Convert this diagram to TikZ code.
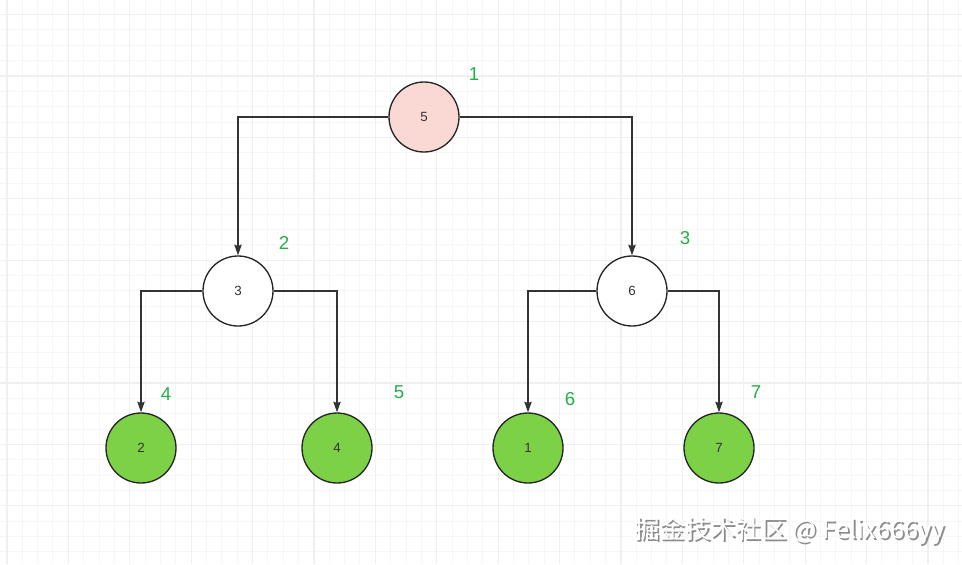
\documentclass[tikz,border=0pt]{standalone}
\usepackage{fontspec}
\setmainfont{Liberation Sans}
\newfontfamily\cjkfont{Noto Sans CJK SC}
\usetikzlibrary{arrows.meta}
\definecolor{rose}{HTML}{FAD9D5}
\definecolor{feuille}{HTML}{7CD147}
\definecolor{ordre}{HTML}{27AE4A}
\definecolor{trait}{HTML}{333333}
\tikzset{
	noeud/.style = {circle, draw=black!85, line width=1pt, inner sep=0pt,
		minimum size=52.5pt, text=trait, font=\fontsize{10}{12}\selectfont},
	noeud_r/.style = {noeud, fill=rose},% racine
	noeud_b/.style = {noeud, fill=white},% noeud interne
	noeud_v/.style = {noeud, fill=feuille},% feuille
	rang/.style = {text=ordre, font=\fontsize{14}{16}\selectfont},% ordre de visite
	lien/.style = {-{Stealth[length=8pt, width=5.5pt, inset=1pt]}, draw=trait,
		line width=1pt},
	grille/.style = {draw=black!3.5, line width=0.7pt},
	grille_f/.style = {draw=black!6, line width=0.9pt},
	filigrane/.style = {font=\cjkfont\fontsize{19}{22}\selectfont}
}

\begin{document}
\begin{tikzpicture}[x=0.75pt, y=-0.75pt]
	\useasboundingbox[fill=white] (0,0) rectangle (962,564);
	% quadrillage
	\foreach \i in {0,...,62} {\draw[grille] ({6.9+15.35*\i},0) -- ++(0,564);}
	\foreach \i in {0,...,36} {\draw[grille] (0,{-0.75+15.35*\i}) -- ++(962,0);}
	\foreach \i in {0,...,15} {\draw[grille_f] ({6.9+61.4*\i},0) -- ++(0,564);}
	\foreach \i in {0,...,8} {\draw[grille_f] (0,{14.6+61.4*\i}) -- ++(962,0);}
	% arbre
	\node[noeud_r] (n5) at (424,117) {5};
	\node[noeud_b] (n3) at (238,291) {3};
	\node[noeud_b] (n6) at (632,291) {6};
	\node[noeud_v] (n2) at (141,448) {2};
	\node[noeud_v] (n4) at (337,448) {4};
	\node[noeud_v] (n1) at (528,448) {1};
	\node[noeud_v] (n7) at (719,448) {7};
	\draw[lien] (n5.west) -| (n3);
	\draw[lien] (n5.east) -| (n6);
	\draw[lien] (n3.west) -| (n2);
	\draw[lien] (n3.east) -| (n4);
	\draw[lien] (n6.west) -| (n1);
	\draw[lien] (n6.east) -| (n7);
	% ordre
	\node[rang] (r1) at (474,74) {1};
	\node[rang] (r2) at (284,243) {2};
	\node[rang] (r3) at (685,238) {3};
	\node[rang] (r4) at (166,394) {4};
	\node[rang] (r5) at (399,392) {5};
	\node[rang] (r6) at (570,399) {6};
	\node[rang] (r7) at (756,392) {7};
	% filigrane
	\node[filigrane, text=black!45] (wm_ombre) at (791.5,532.5) {掘金技术社区 @ Felix666yy};
	\node[filigrane, text=white] (wm) at (790,531) {掘金技术社区 @ Felix666yy};
\end{tikzpicture}
\end{document}
